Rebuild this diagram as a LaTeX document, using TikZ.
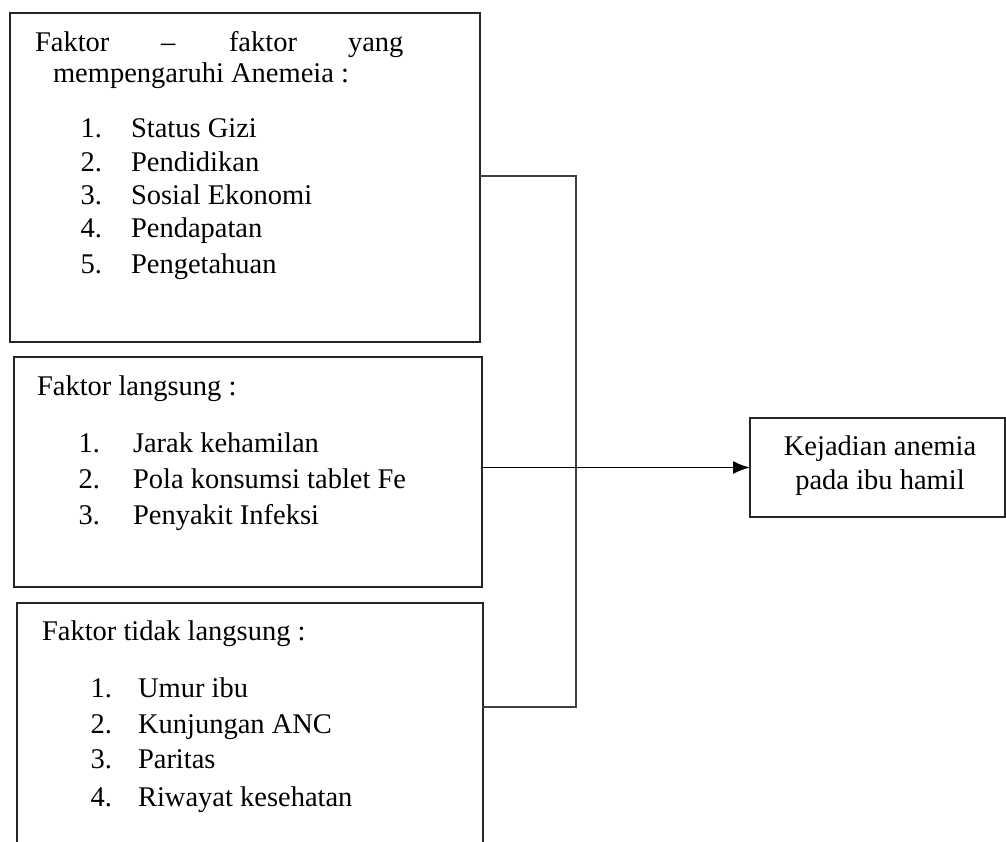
\documentclass[tikz,border=0pt]{standalone}
\usepackage{fontspec}
\setmainfont{Liberation Serif}
\usetikzlibrary{arrows.meta}
\begin{document}
\begin{tikzpicture}[x=1pt,y=-1pt,
  box/.style={draw=black!85, line width=2.2pt, rectangle, inner sep=0pt, outer sep=0pt, anchor=north west},
  txt/.style={inner sep=0pt, outer sep=0pt, anchor=base west, font=\fontsize{28.5}{34}\selectfont},
  num/.style={txt, anchor=base east},
  bracket/.style={draw=black!75, line width=1.5pt},
  arrowline/.style={draw=black, line width=1.8pt, -{Latex[length=17pt,width=13pt]}}
]
\useasboundingbox (0,0) rectangle (1006,842);
\fill[white] (0,0) rectangle (1006,842);

% boxes
\node[box, minimum width=470pt, minimum height=329pt] (b1) at (10,13) {};
\node[box, minimum width=468pt, minimum height=230pt] (b2) at (14,357) {};
\node[box, minimum width=466pt, minimum height=245pt] (b3) at (17,603) {};
\node[box, minimum width=255pt, minimum height=99pt] (t) at (750,418) {};

% box 1 text
\node[txt] (h1a) at (35,52) {Faktor};
\node[txt] (h1b) at (161,52) {–};
\node[txt] (h1c) at (229,52) {faktor};
\node[txt] (h1d) at (348,52) {yang};
\node[txt] (h1e) at (53,83) {mempengaruhi Anemeia :};
\node[num] (n11) at (102,138) {1.};
\node[txt] (i11) at (131,138) {Status Gizi};
\node[num] (n12) at (102,172) {2.};
\node[txt] (i12) at (131,172) {Pendidikan};
\node[num] (n13) at (102,205) {3.};
\node[txt] (i13) at (131,205) {Sosial Ekonomi};
\node[num] (n14) at (102,238) {4.};
\node[txt] (i14) at (131,238) {Pendapatan};
\node[num] (n15) at (102,273) {5.};
\node[txt] (i15) at (131,273) {Pengetahuan};

% box 2 text
\node[txt] (h2) at (37,395) {Faktor langsung :};
\node[num] (n21) at (100,452) {1.};
\node[txt] (i21) at (133,452) {Jarak kehamilan};
\node[num] (n22) at (100,488) {2.};
\node[txt] (i22) at (133,488) {Pola konsumsi tablet Fe};
\node[num] (n23) at (100,524) {3.};
\node[txt] (i23) at (133,524) {Penyakit Infeksi};

% box 3 text
\node[txt] (h3) at (42,640) {Faktor tidak langsung :};
\node[num] (n31) at (112,697) {1.};
\node[txt] (i31) at (138,697) {Umur ibu};
\node[num] (n32) at (112,733) {2.};
\node[txt] (i32) at (138,733) {Kunjungan ANC};
\node[num] (n33) at (112,768) {3.};
\node[txt] (i33) at (138,768) {Paritas};
\node[num] (n34) at (112,806) {4.};
\node[txt] (i34) at (138,806) {Riwayat kesehatan};

% target text
\node[txt, anchor=base] (t1) at (880,455) {Kejadian anemia};
\node[txt, anchor=base] (t2) at (880,489) {pada ibu hamil};

% bracket
\coordinate (btop) at (576,176);
\coordinate (bbot) at (483,707);
\draw[bracket] (b1.east |- btop) -- (btop) -- (btop |- bbot) -- (bbot);

% arrow
\draw[arrowline] (b2.east |- t.west) -- (t.west);
\end{tikzpicture}
\end{document}
